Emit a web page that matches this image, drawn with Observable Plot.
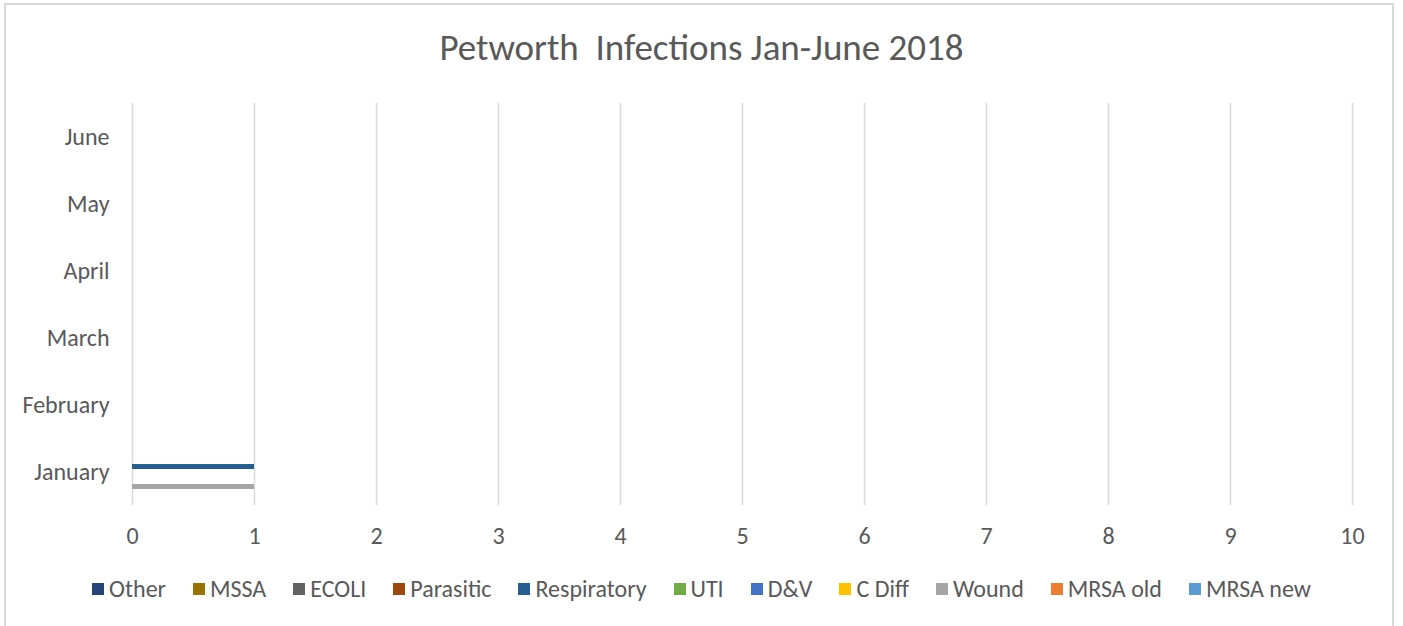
<!DOCTYPE html>
<html><head><meta charset="utf-8">
<script src="https://cdn.jsdelivr.net/npm/d3@7"></script>
<script src="https://cdn.jsdelivr.net/npm/@observablehq/plot@0.6"></script>
<style>
body{margin:0;background:#fff;font-family:Carlito,Lato,"Open Sans",sans-serif;}
#wrap{position:relative;width:1403px;height:626px;overflow:hidden;}
#frame{position:absolute;left:4px;top:3px;width:1390px;height:640px;border:2px solid #d9d9d9;box-sizing:border-box;}
#title{position:absolute;top:25px;left:0;width:1403px;text-align:center;font-size:37px;line-height:46px;color:#595959;white-space:pre;}
#chart{position:absolute;left:0;top:0;}
#legend{position:absolute;top:575px;left:0;width:1403px;display:flex;justify-content:center;gap:0 27px;font-size:24px;line-height:28px;color:#595959;box-sizing:border-box;}
#legend span.item{display:flex;align-items:center;}
#legend span.sw{display:inline-block;width:12px;height:12px;margin-right:5px;}
</style></head>
<body><div id="wrap"><div id="frame"></div><div id="title">Petworth  Infections Jan-June 2018</div><div id="chart"></div><div id="legend"></div></div>
<script>
const months = ["January","February","March","April","May","June"];
const series = ["Other","MSSA","ECOLI","Parasitic","Respiratory","UTI","D&V","C Diff","Wound","MRSA old","MRSA new"];
const colors = ["#264478","#997300","#636363","#9e480e","#255e91","#70ad47","#4472c4","#ffc000","#a5a5a5","#ed7d31","#5b9bd5"];
const january  = [0,0,0,0,1,0,0,0,1,0,0];
const february = [0,0,0,0,0,0,0,0,0,0,0];
const march    = [0,0,0,0,0,0,0,0,0,0,0];
const april    = [0,0,0,0,0,0,0,0,0,0,0];
const may      = [0,0,0,0,0,0,0,0,0,0,0];
const june     = [0,0,0,0,0,0,0,0,0,0,0];
const xTicks = [0,1,2,3,4,5,6,7,8,9,10];

const byMonth = [january,february,march,april,may,june];
const data = [];
months.forEach((m,i)=>series.forEach((s,j)=>data.push({month:m,series:s,value:byMonth[i][j]})));

const chart = Plot.plot({
  width:1403, height:560,
  marginTop:103, marginBottom:55, marginLeft:132, marginRight:51,
  style:{fontFamily:"Carlito, Lato, 'Open Sans', sans-serif", fontSize:"24px", color:"#595959", background:"transparent"},
  x:{domain:[0,10], ticks:xTicks, tickSize:0, tickPadding:21, label:null},
  y:{domain:series, axis:null, paddingInner:0, paddingOuter:0.8},
  fy:{domain:months.slice().reverse(), padding:0, tickSize:0, tickPadding:23, label:null, axis:"left"},
  color:{domain:series, range:colors},
  marks:[
    Plot.gridX(xTicks,{stroke:"#d9d9d9", strokeOpacity:1, strokeWidth:1.5}),
    Plot.barX(data,{x:"value", y:"series", fy:"month", fill:"series", inset:0})
  ]
});
document.getElementById("chart").appendChild(chart);

const leg = document.getElementById("legend");
series.forEach((s,i)=>{
  const it=document.createElement("span"); it.className="item";
  const sw=document.createElement("span"); sw.className="sw"; sw.style.background=colors[i];
  it.appendChild(sw); it.appendChild(document.createTextNode(s)); leg.appendChild(it);
});
</script></body></html>
